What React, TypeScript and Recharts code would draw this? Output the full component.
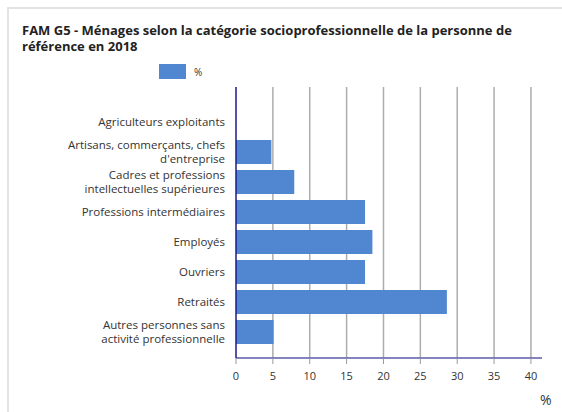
import React from "react";
import {
  BarChart,
  Bar,
  XAxis,
  YAxis,
  CartesianGrid,
} from "recharts";

const categories = [
  "Agriculteurs exploitants",
  "Artisans, commerçants, chefs d'entreprise",
  "Cadres et professions intellectuelles supérieures",
  "Professions intermédiaires",
  "Employés",
  "Ouvriers",
  "Retraités",
  "Autres personnes sans activité professionnelle",
];
const shares = [0, 4.8, 7.9, 17.5, 18.5, 17.5, 28.6, 5.1];
const tickLines: Record<string, string[]> = {
  "Artisans, commerçants, chefs d'entreprise": ["Artisans, commerçants, chefs", "d'entreprise"],
  "Cadres et professions intellectuelles supérieures": ["Cadres et professions", "intellectuelles supérieures"],
  "Autres personnes sans activité professionnelle": ["Autres personnes sans", "activité professionnelle"],
};
const xTicks = [0, 5, 10, 15, 20, 25, 30, 35, 40];

const data = categories.map((name, i) => ({ name, value: shares[i] }));

const FONT = "'Open Sans', sans-serif";

const CategoryTick = (props: any) => {
  const { x, y, payload } = props;
  const lines = tickLines[payload.value] || [payload.value];
  const start = -((lines.length - 1) * 14.5) / 2;
  return (
    <text x={x} y={y} textAnchor="end" fontFamily={FONT} fontSize={11.5} fill="#333">
      {lines.map((l, i) => (
        <tspan key={i} x={x} dy={i === 0 ? start + 4 : 14.5}>
          {l}
        </tspan>
      ))}
    </text>
  );
};

export default function App() {
  return (
    <div style={{ position: "absolute", left: 0, top: 0, width: 562, height: 412, background: "#fff" }}>
      <div
        style={{
          position: "absolute",
          left: 7,
          top: 7,
          right: 0,
          bottom: 0,
          borderLeft: "2px solid #e3e3e3",
          borderTop: "2px solid #e3e3e3",
        }}
      />
      <div
        style={{
          position: "absolute",
          left: 22,
          top: 22,
          width: 530,
          fontFamily: FONT,
          fontWeight: 700,
          fontSize: 13,
          lineHeight: "16px",
          color: "#222",
        }}
      >
        FAM G5 - Ménages selon la catégorie socioprofessionnelle de la personne de référence en 2018
      </div>
      <div
        style={{
          position: "absolute",
          left: 159,
          top: 64,
          display: "flex",
          alignItems: "center",
          fontFamily: FONT,
          fontSize: 10,
          color: "#333",
        }}
      >
        <span style={{ display: "inline-block", width: 27, height: 15, background: "#5187d1", marginRight: 8 }} />
        %
      </div>
      <div style={{ position: "absolute", left: 0, top: 0 }}>
        <BarChart
          width={562}
          height={412}
          data={data}
          layout="vertical"
          margin={{ top: 87, right: 20, bottom: 24, left: 0 }}
        >
          <XAxis
            type="number"
            domain={[0, 41.5]}
            ticks={xTicks}
            interval={0}
            height={30}
            axisLine={{ stroke: "#5a5aa8", strokeWidth: 1.5 }}
            tickLine={{ stroke: "#999" }}
            tickSize={6}
            tickMargin={8}
            tick={{ fontFamily: FONT, fontSize: 11, fill: "#333" }}
          />
          <YAxis
            type="category"
            dataKey="name"
            width={236}
            padding={{ top: 20, bottom: 11 }}
            axisLine={{ stroke: "#1a1a8a", strokeWidth: 1.5 }}
            tickLine={false}
            tickMargin={5}
            interval={0}
            tick={<CategoryTick />}
          />
          <Bar dataKey="value" fill="#5187d1" barSize={24} isAnimationActive={false} />
          <CartesianGrid
            horizontal={false}
            stroke="#777"
            strokeOpacity={0.6}
            strokeWidth={1.5}
            verticalValues={xTicks.filter((t) => t > 0)}
          />
        </BarChart>
      </div>
      <div style={{ position: "absolute", left: 540, top: 390, fontFamily: FONT, fontSize: 14, color: "#333" }}>%</div>
    </div>
  );
}
